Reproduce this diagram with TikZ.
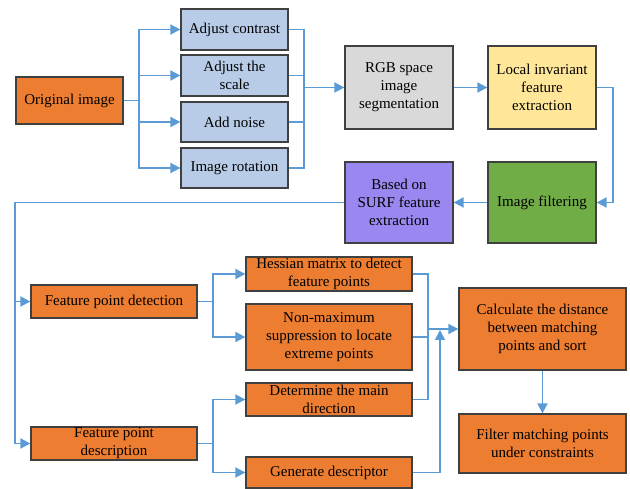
\documentclass[tikz,border=0pt]{standalone}
\usepackage{fontspec}
\setmainfont{Liberation Serif}
\usetikzlibrary{arrows.meta}
\definecolor{lineblue}{HTML}{5B9BD5}
\definecolor{boxorange}{HTML}{ED7D31}
\definecolor{boxblue}{HTML}{B8CCE8}
\definecolor{boxgray}{HTML}{D9D9D9}
\definecolor{boxyellow}{HTML}{FFE699}
\definecolor{boxgreen}{HTML}{70AD47}
\definecolor{boxpurple}{HTML}{9A88F0}
\definecolor{boxborder}{HTML}{404040}
\tikzset{
  box/.style={draw=boxborder, line width=1.3pt, align=center, inner sep=1pt,
    font=\fontsize{15}{18}\selectfont, text=black},
  conn/.style={draw=lineblue, line width=1.9pt},
  arr/.style={conn, -{Triangle[length=10pt,width=10pt]}},
}
\begin{document}
\begin{tikzpicture}[x=1pt,y=-1pt]
\useasboundingbox (0,0) rectangle (630,489);
% nodes
\node[box, fill=boxorange, minimum width=107pt, minimum height=47pt] (orig) at (69.5,100.5) {Original image};
\node[box, fill=boxblue, minimum width=107pt, minimum height=41pt] (contrast) at (234.5,29.5) {Adjust contrast};
\node[box, fill=boxblue, minimum width=107pt, minimum height=41pt] (scale) at (234.5,75.5) {Adjust the\\scale};
\node[box, fill=boxblue, minimum width=107pt, minimum height=40pt] (noise) at (234.5,122) {Add noise};
\node[box, fill=boxblue, minimum width=107pt, minimum height=40pt] (rot) at (234.5,168) {Image rotation};
\node[box, fill=boxgray, minimum width=108pt, minimum height=83pt] (rgb) at (399,87.5) {RGB space\\image\\segmentation};
\node[box, fill=boxyellow, minimum width=108pt, minimum height=83pt] (local) at (542,87.5) {Local invariant\\feature\\extraction};
\node[box, fill=boxgreen, minimum width=108pt, minimum height=81pt] (filt) at (542,202.5) {Image filtering};
\node[box, fill=boxpurple, minimum width=108pt, minimum height=81pt] (surf) at (399,202.5) {Based on\\SURF feature\\extraction};
\node[box, fill=boxorange, minimum width=166pt, minimum height=33pt] (fpd) at (114,301.5) {Feature point detection};
\node[box, fill=boxorange, minimum width=166pt, minimum height=33pt] (fpdesc) at (114,443.5) {Feature point\\description};
\node[box, fill=boxorange, minimum width=166pt, minimum height=34pt] (hess) at (329,274) {Hessian matrix to detect\\feature points};
\node[box, fill=boxorange, minimum width=166pt, minimum height=66pt] (nonmax) at (329,337) {Non-maximum\\suppression to locate\\extreme points};
\node[box, fill=boxorange, minimum width=166pt, minimum height=33pt] (det) at (329,399.5) {Determine the main\\direction};
\node[box, fill=boxorange, minimum width=166pt, minimum height=31pt] (gen) at (329,472.5) {Generate descriptor};
\node[box, fill=boxorange, minimum width=167pt, minimum height=82pt] (calc) at (542.5,329) {Calculate the distance\\between matching\\points and sort};
\node[box, fill=boxorange, minimum width=167pt, minimum height=59pt] (filter) at (542.5,443.5) {Filter matching points\\under constraints};
% junction coordinates
\coordinate (b1) at (139,100.5);
\coordinate (b2) at (304,87.5);
\coordinate (b3a) at (15,301.5);
\coordinate (b3b) at (15,443.5);
\coordinate (b4) at (213,301.5);
\coordinate (b5) at (213,443.5);
\coordinate (b6) at (428,329);
\coordinate (b7) at (440,330);
% connectors
\draw[conn] (orig.east) -- (b1);
\draw[arr] (b1) |- (contrast.west);
\draw[arr] (b1) |- (scale.west);
\draw[arr] (b1) |- (noise.west);
\draw[arr] (b1) |- (rot.west);
\draw[conn] (contrast.east) -| (b2);
\draw[conn] (scale.east) -| (b2);
\draw[conn] (noise.east) -| (b2);
\draw[conn] (rot.east) -| (b2);
\draw[arr] (b2) -- (rgb.west);
\draw[arr] (rgb.east) -- (local.west);
\draw[arr] (local.east) -- ++(16,0) |- (filt.east);
\draw[arr] (filt.west) -- (surf.east);
\draw[conn] (surf.west) -| (b3a);
\draw[conn] (b3a) -- (b3b);
\draw[arr] (b3a) -- (fpd.west);
\draw[arr] (b3b) -- (fpdesc.west);
\draw[conn] (fpd.east) -- (b4);
\draw[arr] (b4) |- (hess.west);
\draw[arr] (b4) |- (nonmax.west);
\draw[conn] (fpdesc.east) -- (b5);
\draw[arr] (b5) |- (det.west);
\draw[arr] (b5) |- (gen.west);
\draw[conn] (hess.east) -| (b6);
\draw[conn] (nonmax.east) -| (b6);
\draw[conn] (det.east) -| (b6);
\draw[arr] (b6) -- (calc.west);
\draw[arr] (gen.east) -| (b7);
\draw[arr] (calc.south) -- (filter.north);
\end{tikzpicture}
\end{document}
